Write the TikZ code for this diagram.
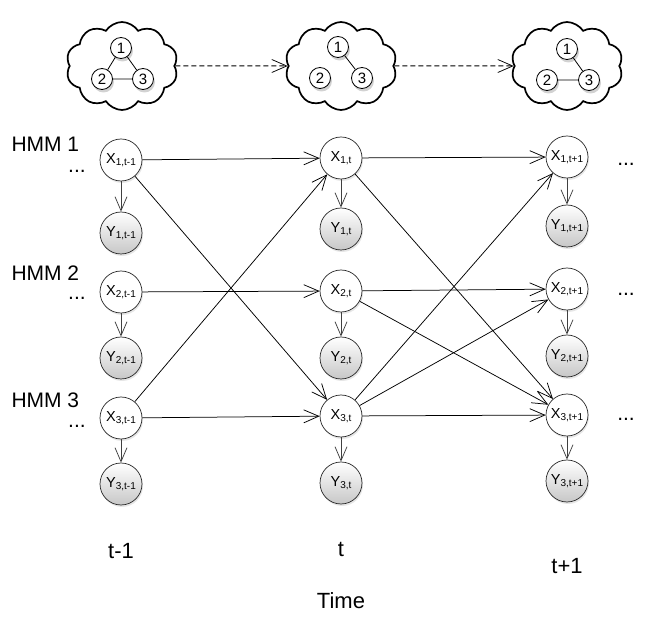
\documentclass[tikz,border=0pt]{standalone}
\usepackage{fontspec}
\setmainfont{Liberation Sans}
\usetikzlibrary{arrows.meta,shapes.symbols,shadows}
\newcommand{\lbl}[2]{#1\raisebox{-0.35ex}{\fontsize{10}{10}\selectfont #2}}
\begin{document}
\begin{tikzpicture}[x=1pt,y=-1pt,
  base/.style={circle,draw=black!85,line width=0.7pt,minimum size=42pt,inner sep=0pt,
    drop shadow={opacity=0.2,shadow xshift=1pt,shadow yshift=-2pt},
    font=\fontsize{14.5}{14.5}\selectfont},
  hid/.style={base,fill=white},
  obs/.style={base,top color=white,bottom color=black!22},
  small/.style={circle,draw=black,line width=0.8pt,minimum size=21pt,inner sep=0pt,fill=white,
    drop shadow={opacity=0.35,shadow xshift=1.5pt,shadow yshift=-3pt},
    font=\fontsize{15}{15}\selectfont},
  cl/.style={cloud,cloud puffs=10,cloud puff arc=115,aspect=1.3,draw=black,line width=1.7pt,
    minimum width=112pt,minimum height=88pt,fill=white},
  tr/.style={line width=0.75pt,-{Straight Barb[length=15pt,width=13pt,line width=0.75pt]}},
  em/.style={line width=0.75pt,black!75,-{Straight Barb[length=14pt,width=12pt,line width=0.75pt]}},
  big/.style={font=\fontsize{21}{21}\selectfont},
  lab/.style={font=\fontsize{22}{22}\selectfont}]
\useasboundingbox (0,0) rectangle (646,628);
% clouds
\node[cl] (c1) at (122,66) {};
\node[cl] (c2) at (341,66) {};
\node[cl] (c3) at (567,66) {};
\node[small] (a1) at (121,48) {1};
\node[small] (a2) at (102,79) {2};
\node[small] (a3) at (143,79) {3};
\node[small] (b1) at (338,47) {1};
\node[small] (b2) at (320,78) {2};
\node[small] (b3) at (362,78) {3};
\node[small] (d1) at (567,49) {1};
\node[small] (d2) at (547,80) {2};
\node[small] (d3) at (589,80) {3};
\draw[line width=0.8pt] (a1) -- (a2) (a1) -- (a3) (a2) -- (a3);
\draw[line width=0.8pt] (b1) -- (b3);
\draw[line width=0.8pt] (d1) -- (d3) (d2) -- (d3);
\draw[tr,line width=1pt,dash pattern=on 5pt off 3pt] (c1) -- (c2);
\draw[tr,line width=1pt,dash pattern=on 5pt off 3pt] (c2) -- (c3);
% nodes
\node[hid] (x1a) at (121,160) {\lbl{X}{1,t-1}};
\node[obs] (y1a) at (121,233) {\lbl{Y}{1,t-1}};
\node[hid] (x2a) at (121,292) {\lbl{X}{2,t-1}};
\node[obs] (y2a) at (121,358) {\lbl{Y}{2,t-1}};
\node[hid] (x3a) at (121,418) {\lbl{X}{3,t-1}};
\node[obs] (y3a) at (121,484) {\lbl{Y}{3,t-1}};
\node[hid] (x1b) at (341,158) {\lbl{X}{1,t}};
\node[obs] (y1b) at (341,229) {\lbl{Y}{1,t}};
\node[hid] (x2b) at (341,291) {\lbl{X}{2,t}};
\node[obs] (y2b) at (341,358) {\lbl{Y}{2,t}};
\node[hid] (x3b) at (341,416) {\lbl{X}{3,t}};
\node[obs] (y3b) at (341,483) {\lbl{Y}{3,t}};
\node[hid] (x1c) at (567,157) {\lbl{X}{1,t+1}};
\node[obs] (y1c) at (567,226) {\lbl{Y}{1,t+1}};
\node[hid] (x2c) at (567,289) {\lbl{X}{2,t+1}};
\node[obs] (y2c) at (567,356) {\lbl{Y}{2,t+1}};
\node[hid] (x3c) at (567,415) {\lbl{X}{3,t+1}};
\node[obs] (y3c) at (567,481) {\lbl{Y}{3,t+1}};
% emissions
\foreach \c in {a,b,c}{
  \draw[em] (x1\c) -- (y1\c);
  \draw[em] (x2\c) -- (y2\c);
  \draw[em] (x3\c) -- (y3\c);
}
% transitions
\draw[tr] (x1a) -- (x1b);
\draw[tr] (x1a) -- (x3b);
\draw[tr] (x2a) -- (x2b);
\draw[tr] (x3a) -- (x1b);
\draw[tr] (x3a) -- (x3b);
\draw[tr] (x1b) -- (x1c);
\draw[tr] (x1b) -- (x3c);
\draw[tr] (x2b) -- (x2c);
\draw[tr] (x2b) -- (x3c);
\draw[tr] (x3b) -- (x1c);
\draw[tr] (x3b) -- (x2c);
\draw[tr] (x3b) -- (x3c);
% labels
\node[big,anchor=west] (h1) at (8,144) {HMM 1};
\node[big,anchor=west] (h2) at (8,273) {HMM 2};
\node[big,anchor=west] (h3) at (8,400) {HMM 3};
\node[big,anchor=base] (l1) at (77,173) {...};
\node[big,anchor=base] (l2) at (77,300) {...};
\node[big,anchor=base] (l3) at (77,428) {...};
\node[big,anchor=base] (r1) at (626,166) {...};
\node[big,anchor=base] (r2) at (626,296) {...};
\node[big,anchor=base] (r3) at (626,421) {...};
\node[lab] (t1) at (121,551) {t-1};
\node[lab] (t2) at (341,549) {t};
\node[lab] (t3) at (567,566) {t+1};
\node[lab] (tm) at (341,601) {Time};
\end{tikzpicture}
\end{document}
